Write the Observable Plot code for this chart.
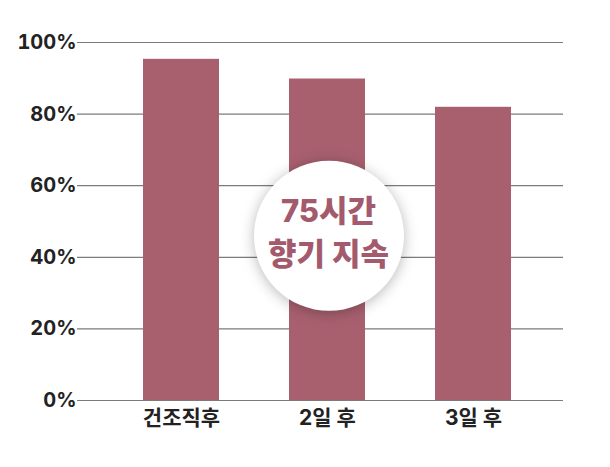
<!DOCTYPE html>
<html>
<head>
<meta charset="utf-8">
<script src="https://cdn.jsdelivr.net/npm/d3@7"></script>
<script src="https://cdn.jsdelivr.net/npm/@observablehq/plot@0.6"></script>
<style>
  html, body { margin: 0; padding: 0; background: #fff; }
  #chart { width: 610px; height: 467px; }
</style>
</head>
<body>
<div id="chart"></div>
<script>
const categories = ["건조직후", "2일 후", "3일 후"];
const values = [95.3, 89.8, 81.9];
const yTicks = [0, 20, 40, 60, 80, 100];
const badgeCategory = ["2일 후"];
const badgeY = [46];
const badgeText = ["75시간\n향기 지속"];

const data = categories.map((c, i) => ({cat: c, value: values[i]}));
const badge = badgeCategory.map((c, i) => ({cat: c, y: badgeY[i], text: badgeText[i]}));

const barColor = "#a8606f";
const fontStack = "Inter, 'Noto Sans CJK KR', sans-serif";

const chart = Plot.plot({
  width: 610,
  height: 467,
  marginTop: 42,
  marginBottom: 67,
  marginLeft: 77,
  marginRight: 47,
  style: {fontFamily: fontStack, fontWeight: 700, background: "#fff", overflow: "visible"},
  x: {domain: categories, range: [142, 511], paddingInner: 0.481, paddingOuter: 0, axis: null},
  y: {domain: [0, 100], axis: null},
  marks: [
    Plot.ruleY(yTicks, {stroke: "#7b7b7b", strokeWidth: 1.2}),
    Plot.axisY({ticks: yTicks, tickSize: 0, tickPadding: 1, tickFormat: d => d + "%", fontSize: 20, fontWeight: 700, fill: "#222", label: null}),
    Plot.barY(data, {x: "cat", y: "value", fill: barColor}),
    Plot.axisX({tickSize: 0, tickPadding: 10, fontSize: 21, fontWeight: 700, fill: "#222", label: null}),
    Plot.dot(badge, {x: "cat", y: "y", r: 75, fill: "white", stroke: "none", dx: 1.5}),
    Plot.text(badge, {x: "cat", y: "y", text: "text", fontSize: 31, fontWeight: 800, fill: "#a35a6d", lineHeight: 1.38, dx: 1, dy: -6})
  ]
});

d3.select(chart).selectAll("circle").style("filter", "drop-shadow(0px 2px 7px rgba(0,0,0,0.28))");
document.getElementById("chart").appendChild(chart);
</script>
</body>
</html>
